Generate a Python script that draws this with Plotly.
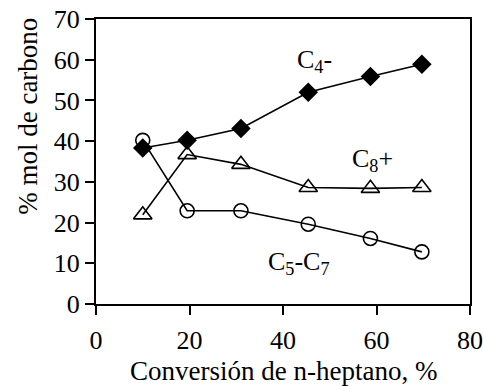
import plotly.graph_objects as go

# Conversión de n-heptano (%) and product distribution (% mol de carbono)
conversion = [10.0, 19.5, 31.0, 45.4, 58.7, 69.7]
c4_minus = [38.3, 40.2, 43.1, 52.0, 55.9, 58.9]
c8_plus = [21.9, 36.7, 34.3, 28.6, 28.4, 28.6]
c5_c7 = [40.2, 22.9, 22.9, 19.6, 16.1, 12.8]

series_labels = ["C<sub>4</sub>-", "C<sub>8</sub>+", "C<sub>5</sub>-C<sub>7</sub>"]
x_ticks = [0, 20, 40, 60, 80]
y_ticks = [0, 10, 20, 30, 40, 50, 60, 70]
x_title = "Conversión de n-heptano, %"
y_title = "% mol de carbono"

FONT = "Liberation Serif, Times New Roman, serif"
line = dict(color="black", width=1.6)

fig = go.Figure()
fig.add_trace(go.Scatter(
    x=conversion, y=c5_c7, mode="lines+markers", line=line,
    marker=dict(symbol="circle-open", size=14, color="black", line=dict(width=1.6)),
))
fig.add_trace(go.Scatter(
    x=conversion, y=c8_plus, mode="lines+markers", line=line,
    marker=dict(symbol="triangle-up-open", size=16, color="black", line=dict(width=1.6)),
))
fig.add_trace(go.Scatter(
    x=conversion, y=c4_minus, mode="lines+markers", line=line,
    marker=dict(symbol="diamond", size=15, color="black", line=dict(width=0)),
))

# Series labels placed next to their curves
label_pos = [(46.8, 59.6), (59.2, 35.4), (43.4, 10.0)]
for text, (lx, ly) in zip(series_labels, label_pos):
    fig.add_annotation(x=lx, y=ly, xref="x", yref="y", text=text, showarrow=False,
                       font=dict(family=FONT, size=26, color="black"))

# Axis titles
title_font = dict(family=FONT, size=27, color="black")
fig.add_annotation(x=0.5, y=-0.236, xref="paper", yref="paper", text=x_title,
                   showarrow=False, xanchor="center", yanchor="middle", font=title_font)
fig.add_annotation(x=-0.182, y=0.66, xref="paper", yref="paper", text=y_title,
                   showarrow=False, textangle=-90, xanchor="center", yanchor="middle",
                   font=title_font)

axis_common = dict(
    showgrid=False, zeroline=False, showline=True, linecolor="black", linewidth=2.2,
    mirror=True, ticks="outside", ticklen=9, tickwidth=2, tickcolor="black",
    tickfont=dict(family=FONT, size=26, color="black"), automargin=False,
    ticklabeloverflow="allow",
)

fig.update_layout(
    width=483, height=386,
    margin=dict(l=96, r=13, t=19, b=82),
    paper_bgcolor="white", plot_bgcolor="white",
    showlegend=False,
    xaxis=dict(range=[0, 80], tickvals=x_ticks, ticklabelstandoff=3, **axis_common),
    yaxis=dict(range=[0, 70], tickvals=y_ticks, **axis_common),
)

fig.write_html("out.html")
